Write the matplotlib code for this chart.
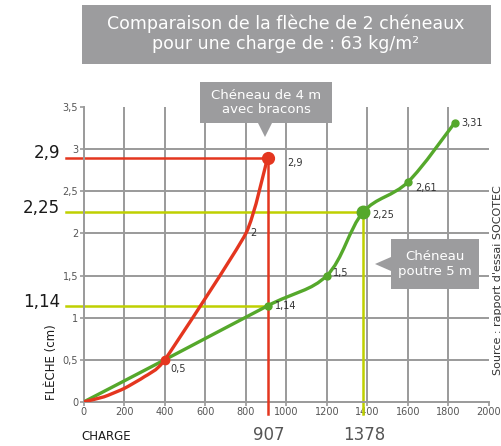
"""
Comparaison de la flèche de 2 chéneaux
"""
import matplotlib
matplotlib.use('Agg')
import matplotlib.pyplot as plt
from matplotlib.path import Path
from matplotlib.patches import PathPatch, Rectangle, Polygon

plt.rcParams['font.family'] = ['DejaVu Sans']

# ---------------- données ----------------
# chéneau de 4 m avec bracons
charge_bracons = [0, 100, 200, 300, 400, 800, 907]
fleche_bracons = [0, 0.06, 0.16, 0.3, 0.5, 2.0, 2.9]
labels_bracons = ['', '', '', '', '0,5', '2', '2,9']

# chéneau poutre 5 m
charge_poutre = [0, 400, 907, 1200, 1378, 1600, 1830]
fleche_poutre = [0, 0.5, 1.14, 1.5, 2.25, 2.61, 3.31]
labels_poutre = ['', '', '1,14', '1,5', '2,25', '2,61', '3,31']

x_ticks = [0, 200, 400, 600, 800, 1000, 1200, 1400, 1600, 1800, 2000]
y_ticks = [0, 0.5, 1, 1.5, 2, 2.5, 3, 3.5]
y_tick_labels = ['0', '0,5', '1', '1,5', '2', '2,5', '3', '3,5']

RED = '#e4361f'
GREEN = '#55a82b'
LIME = '#bfd000'
GREY = '#9c9c9e'
GRID = '#9a9a9a'


def smooth_path(xs, ys, tension=1.0):
    """courbe de Catmull-Rom en Bézier cubiques (rendu seulement)"""
    pts = list(zip(xs, ys))
    verts = [pts[0]]
    codes = [Path.MOVETO]
    n = len(pts)
    k = tension / 6
    for i in range(n - 1):
        p0 = pts[i - 1] if i > 0 else pts[i]
        p1 = pts[i]
        p2 = pts[i + 1]
        p3 = pts[i + 2] if i + 2 < n else pts[i + 1]
        c1 = (p1[0] + (p2[0] - p0[0]) * k, p1[1] + (p2[1] - p0[1]) * k)
        c2 = (p2[0] - (p3[0] - p1[0]) * k, p2[1] - (p3[1] - p1[1]) * k)
        verts += [c1, c2, p2]
        codes += [Path.CURVE4] * 3
    return Path(verts, codes)


fig = plt.figure(figsize=(5.02, 4.46), dpi=100)
ax = fig.add_axes([0.167, 0.099, 0.807, 0.661])
ax.set_xlim(0, 2000)
ax.set_ylim(0, 3.5)

# grille
for xv in x_ticks[1:-1]:
    ax.axvline(xv, color=GRID, lw=1.4, zorder=1)
for yv in y_ticks[1:-1]:
    ax.axhline(yv, color=GRID, lw=1.4, zorder=1)
for s in ['top', 'right']:
    ax.spines[s].set_visible(False)
for s in ['left', 'bottom']:
    ax.spines[s].set_color(GRID)
    ax.spines[s].set_linewidth(1.4)
ax.set_xticks(x_ticks)
ax.set_xticklabels([str(v) for v in x_ticks])
ax.set_yticks(y_ticks)
ax.set_yticklabels(y_tick_labels)
ax.tick_params(length=3, width=1.2, color=GRID, labelsize=7, labelcolor='#555555', pad=1)

# lignes de repère
ax.plot([-90, charge_bracons[-1]], [fleche_bracons[-1]] * 2, color=RED, lw=1.8, clip_on=False, zorder=2)
ax.plot([charge_bracons[-1]] * 2, [fleche_bracons[-1], -0.14], color=RED, lw=1.8, clip_on=False, zorder=3)
ax.plot([-90, charge_poutre[4]], [fleche_poutre[4]] * 2, color=LIME, lw=1.8, clip_on=False, zorder=2)
ax.plot([charge_poutre[4]] * 2, [fleche_poutre[4], -0.14], color=LIME, lw=1.8, clip_on=False, zorder=2)
ax.plot([-90, charge_poutre[2]], [fleche_poutre[2]] * 2, color=LIME, lw=1.8, clip_on=False, zorder=2)

# courbes
ax.add_patch(PathPatch(smooth_path(charge_poutre, fleche_poutre), fill=False, ec=GREEN, lw=2.4, zorder=4))
ax.add_patch(PathPatch(smooth_path(charge_bracons, fleche_bracons, 0.5), fill=False, ec=RED, lw=2.4,
                       zorder=5, joinstyle='round'))

ax.plot(charge_poutre[2:], fleche_poutre[2:], 'o', color=GREEN, ms=5, zorder=6)
ax.plot([charge_poutre[4]], [fleche_poutre[4]], 'o', color=GREEN, ms=9, zorder=6)
ax.plot([charge_bracons[4]], [fleche_bracons[4]], 'o', color=RED, ms=6, zorder=7)
ax.plot([charge_bracons[-1]], [fleche_bracons[-1]], 'o', color=RED, ms=8.5, zorder=7)

offs_b = {4: (4, -7), 5: (3, 0), 6: (14, -4)}
for i, (xv, yv, lab) in enumerate(zip(charge_bracons, fleche_bracons, labels_bracons)):
    if lab:
        ax.annotate(lab, (xv, yv), xytext=offs_b[i], textcoords='offset points',
                    fontsize=7, color='#333333', va='center', ha='left', zorder=8)
offs_p = {2: (5, 0), 3: (4, 2), 4: (7, -2), 5: (5, -4), 6: (5, 0)}
for i, (xv, yv, lab) in enumerate(zip(charge_poutre, fleche_poutre, labels_poutre)):
    if lab:
        ax.annotate(lab, (xv, yv), xytext=offs_p[i], textcoords='offset points',
                    fontsize=7, color='#333333', va='center', ha='left', zorder=8)

# grandes valeurs
for yv, lab in [(fleche_bracons[-1], '2,9'), (fleche_poutre[4], '2,25'), (fleche_poutre[2], '1,14')]:
    ax.annotate(lab, (0, yv), xytext=(-17, 3), textcoords='offset points',
                ha='right', va='center', fontsize=12, color='#1a1a1a', annotation_clip=False)
for xv, lab in [(charge_bracons[-1], '907'), (charge_poutre[4], '1378')]:
    ax.annotate(lab, (xv, 0), xytext=(1, -24), textcoords='offset points',
                ha='center', va='center', fontsize=12, color='#555555', annotation_clip=False)

fig.text(52 / 502, 1 - 362 / 446, 'FLÈCHE (cm)', rotation=90, fontsize=8.5, color='#1a1a1a',
         ha='center', va='center')
fig.text(0.163, 0.022, 'CHARGE', fontsize=8.5, color='#1a1a1a', va='center', ha='left')
fig.text(498 / 502, 1 - 280 / 446, "Source : rapport d'essai SOCOTEC", rotation=90, fontsize=8,
         color='#333333', ha='center', va='center')

# encadrés (coordonnées pixels)
ov = fig.add_axes([0, 0, 1, 1], zorder=10)
ov.set_xlim(0, 502)
ov.set_ylim(446, 0)
ov.axis('off')
ov.patch.set_alpha(0)

ov.add_patch(Rectangle((82, 5), 409, 59, fc=GREY, ec='none'))
ov.text(286, 34, 'Comparaison de la flèche de 2 chéneaux\npour une charge de : 63 kg/m²',
        ha='center', va='center', fontsize=12.5, color='white', linespacing=1.15)

ov.add_patch(Rectangle((200, 82), 132, 41, fc=GREY, ec='none'))
ov.add_patch(Polygon([(258, 123), (272, 123), (265, 137)], closed=True, fc=GREY, ec='none'))
ov.text(266, 102.5, 'Chéneau de 4 m\navec bracons', ha='center', va='center',
        fontsize=9.5, color='white', linespacing=1.1)

ov.add_patch(Rectangle((391, 239), 88, 50, fc=GREY, ec='none'))
ov.add_patch(Polygon([(391, 257), (391, 271), (375, 264)], closed=True, fc=GREY, ec='none'))
ov.text(435, 264, 'Chéneau\npoutre 5 m', ha='center', va='center',
        fontsize=9.5, color='white', linespacing=1.15)

fig.savefig('out.png', dpi=100, facecolor='white')
